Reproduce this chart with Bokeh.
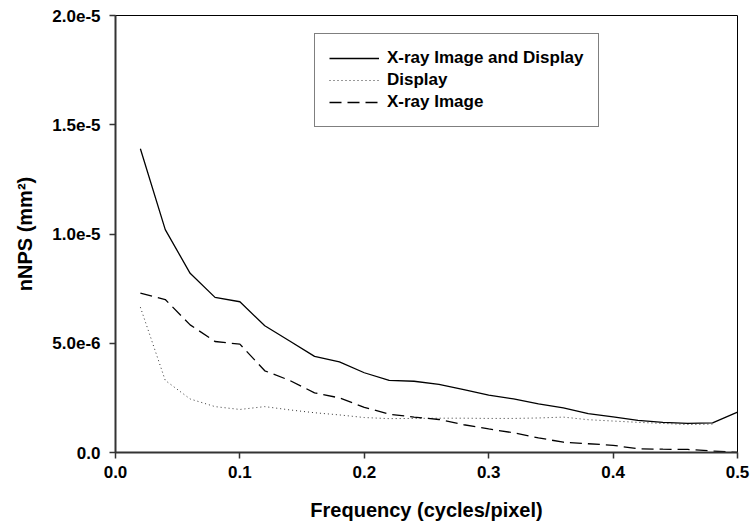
from bokeh.plotting import figure
from bokeh.models import FixedTicker, Legend, LegendItem
from bokeh.embed import file_html
from bokeh.resources import INLINE

freq = [0.02, 0.04, 0.06, 0.08, 0.10, 0.12, 0.14, 0.16, 0.18, 0.20, 0.22, 0.24, 0.26,
        0.28, 0.30, 0.32, 0.34, 0.36, 0.38, 0.40, 0.42, 0.44, 0.46, 0.48, 0.50]

xray_and_display = [13.9e-6, 10.2e-6, 8.2e-6, 7.1e-6, 6.9e-6, 5.8e-6, 5.1e-6, 4.4e-6, 4.15e-6,
                    3.65e-6, 3.3e-6, 3.26e-6, 3.12e-6, 2.88e-6, 2.63e-6, 2.45e-6, 2.23e-6,
                    2.04e-6, 1.78e-6, 1.63e-6, 1.47e-6, 1.38e-6, 1.33e-6, 1.36e-6, 1.85e-6]

display_freq = freq[:-1]
display = [6.65e-6, 3.3e-6, 2.45e-6, 2.1e-6, 1.97e-6, 2.1e-6, 1.95e-6, 1.82e-6, 1.72e-6,
           1.6e-6, 1.55e-6, 1.56e-6, 1.57e-6, 1.57e-6, 1.56e-6, 1.56e-6, 1.58e-6,
           1.62e-6, 1.5e-6, 1.44e-6, 1.38e-6, 1.33e-6, 1.28e-6, 1.3e-6]

xray = [7.29e-6, 7.0e-6, 5.84e-6, 5.08e-6, 4.96e-6, 3.74e-6, 3.3e-6, 2.73e-6, 2.5e-6,
        2.07e-6, 1.75e-6, 1.62e-6, 1.51e-6, 1.27e-6, 1.08e-6, 0.9e-6, 0.67e-6,
        0.47e-6, 0.4e-6, 0.33e-6, 0.17e-6, 0.15e-6, 0.14e-6, 0.07e-6, 0.0]

x_ticks = [0.0, 0.1, 0.2, 0.3, 0.4, 0.5]
x_tick_labels = ["0.0", "0.1", "0.2", "0.3", "0.4", "0.5"]
y_ticks = [0.0, 5e-6, 1e-5, 1.5e-5, 2e-5]
y_tick_labels = ["0.0", "5.0e-6", "1.0e-5", "1.5e-5", "2.0e-5"]

FONT = "Liberation Sans"

p = figure(width=750, height=529, output_backend="svg", toolbar_location=None,
           x_range=(0, 0.5), y_range=(0, 2e-5),
           min_border_left=115, min_border_right=13, min_border_top=15, min_border_bottom=77)

p.xgrid.visible = False
p.ygrid.visible = False
p.outline_line_color = "black"
p.outline_line_width = 1
p.background_fill_color = "white"
p.border_fill_color = "white"

for ax in (p.xaxis[0], p.yaxis[0]):
    ax.axis_line_color = "#333333"
    ax.axis_line_width = 2
    ax.major_tick_line_color = "#333333"
    ax.major_tick_line_width = 1.5
    ax.major_tick_out = 6
    ax.major_tick_in = 0
    ax.minor_tick_line_color = None
    ax.major_label_text_font = FONT
    ax.major_label_text_font_style = "bold"
    ax.major_label_text_font_size = "17px"
    ax.major_label_text_color = "black"
    ax.axis_label_text_font = FONT
    ax.axis_label_text_font_style = "bold"
    ax.axis_label_text_font_size = "20px"
    ax.axis_label_text_color = "black"

p.xaxis.ticker = FixedTicker(ticks=x_ticks)
p.xaxis.major_label_overrides = dict(zip(x_ticks, x_tick_labels))
p.yaxis.ticker = FixedTicker(ticks=y_ticks)
p.yaxis.major_label_overrides = dict(zip(y_ticks, y_tick_labels))
p.xaxis.major_label_standoff = 7
p.yaxis.major_label_standoff = 9
p.xaxis.axis_label = "Frequency (cycles/pixel)"
p.yaxis.axis_label = "nNPS (mm²)"
p.xaxis.axis_label_standoff = 18
p.yaxis.axis_label_standoff = 13

r1 = p.line(freq, xray_and_display, line_color="black", line_width=1.3)
r2 = p.line(display_freq, display, line_color="#333333", line_width=1, line_dash="1 3")
r3 = p.line(freq, xray, line_color="black", line_width=1.3, line_dash="12 6")

legend = Legend(items=[LegendItem(label="X-ray Image and Display", renderers=[r1]),
                       LegendItem(label="Display", renderers=[r2]),
                       LegendItem(label="X-ray Image", renderers=[r3])],
                location=(199, 325))
legend.border_line_color = "black"
legend.border_line_width = 1
legend.background_fill_alpha = 1
legend.label_text_font = FONT
legend.label_text_font_style = "bold"
legend.label_text_font_size = "17px"
legend.label_text_color = "black"
legend.glyph_width = 50
legend.glyph_height = 20
legend.label_standoff = 8
legend.label_height = 20
legend.spacing = 2
legend.padding = 14
legend.margin = 0
p.add_layout(legend, "center")

open("out.html", "w").write(file_html(p, INLINE))
